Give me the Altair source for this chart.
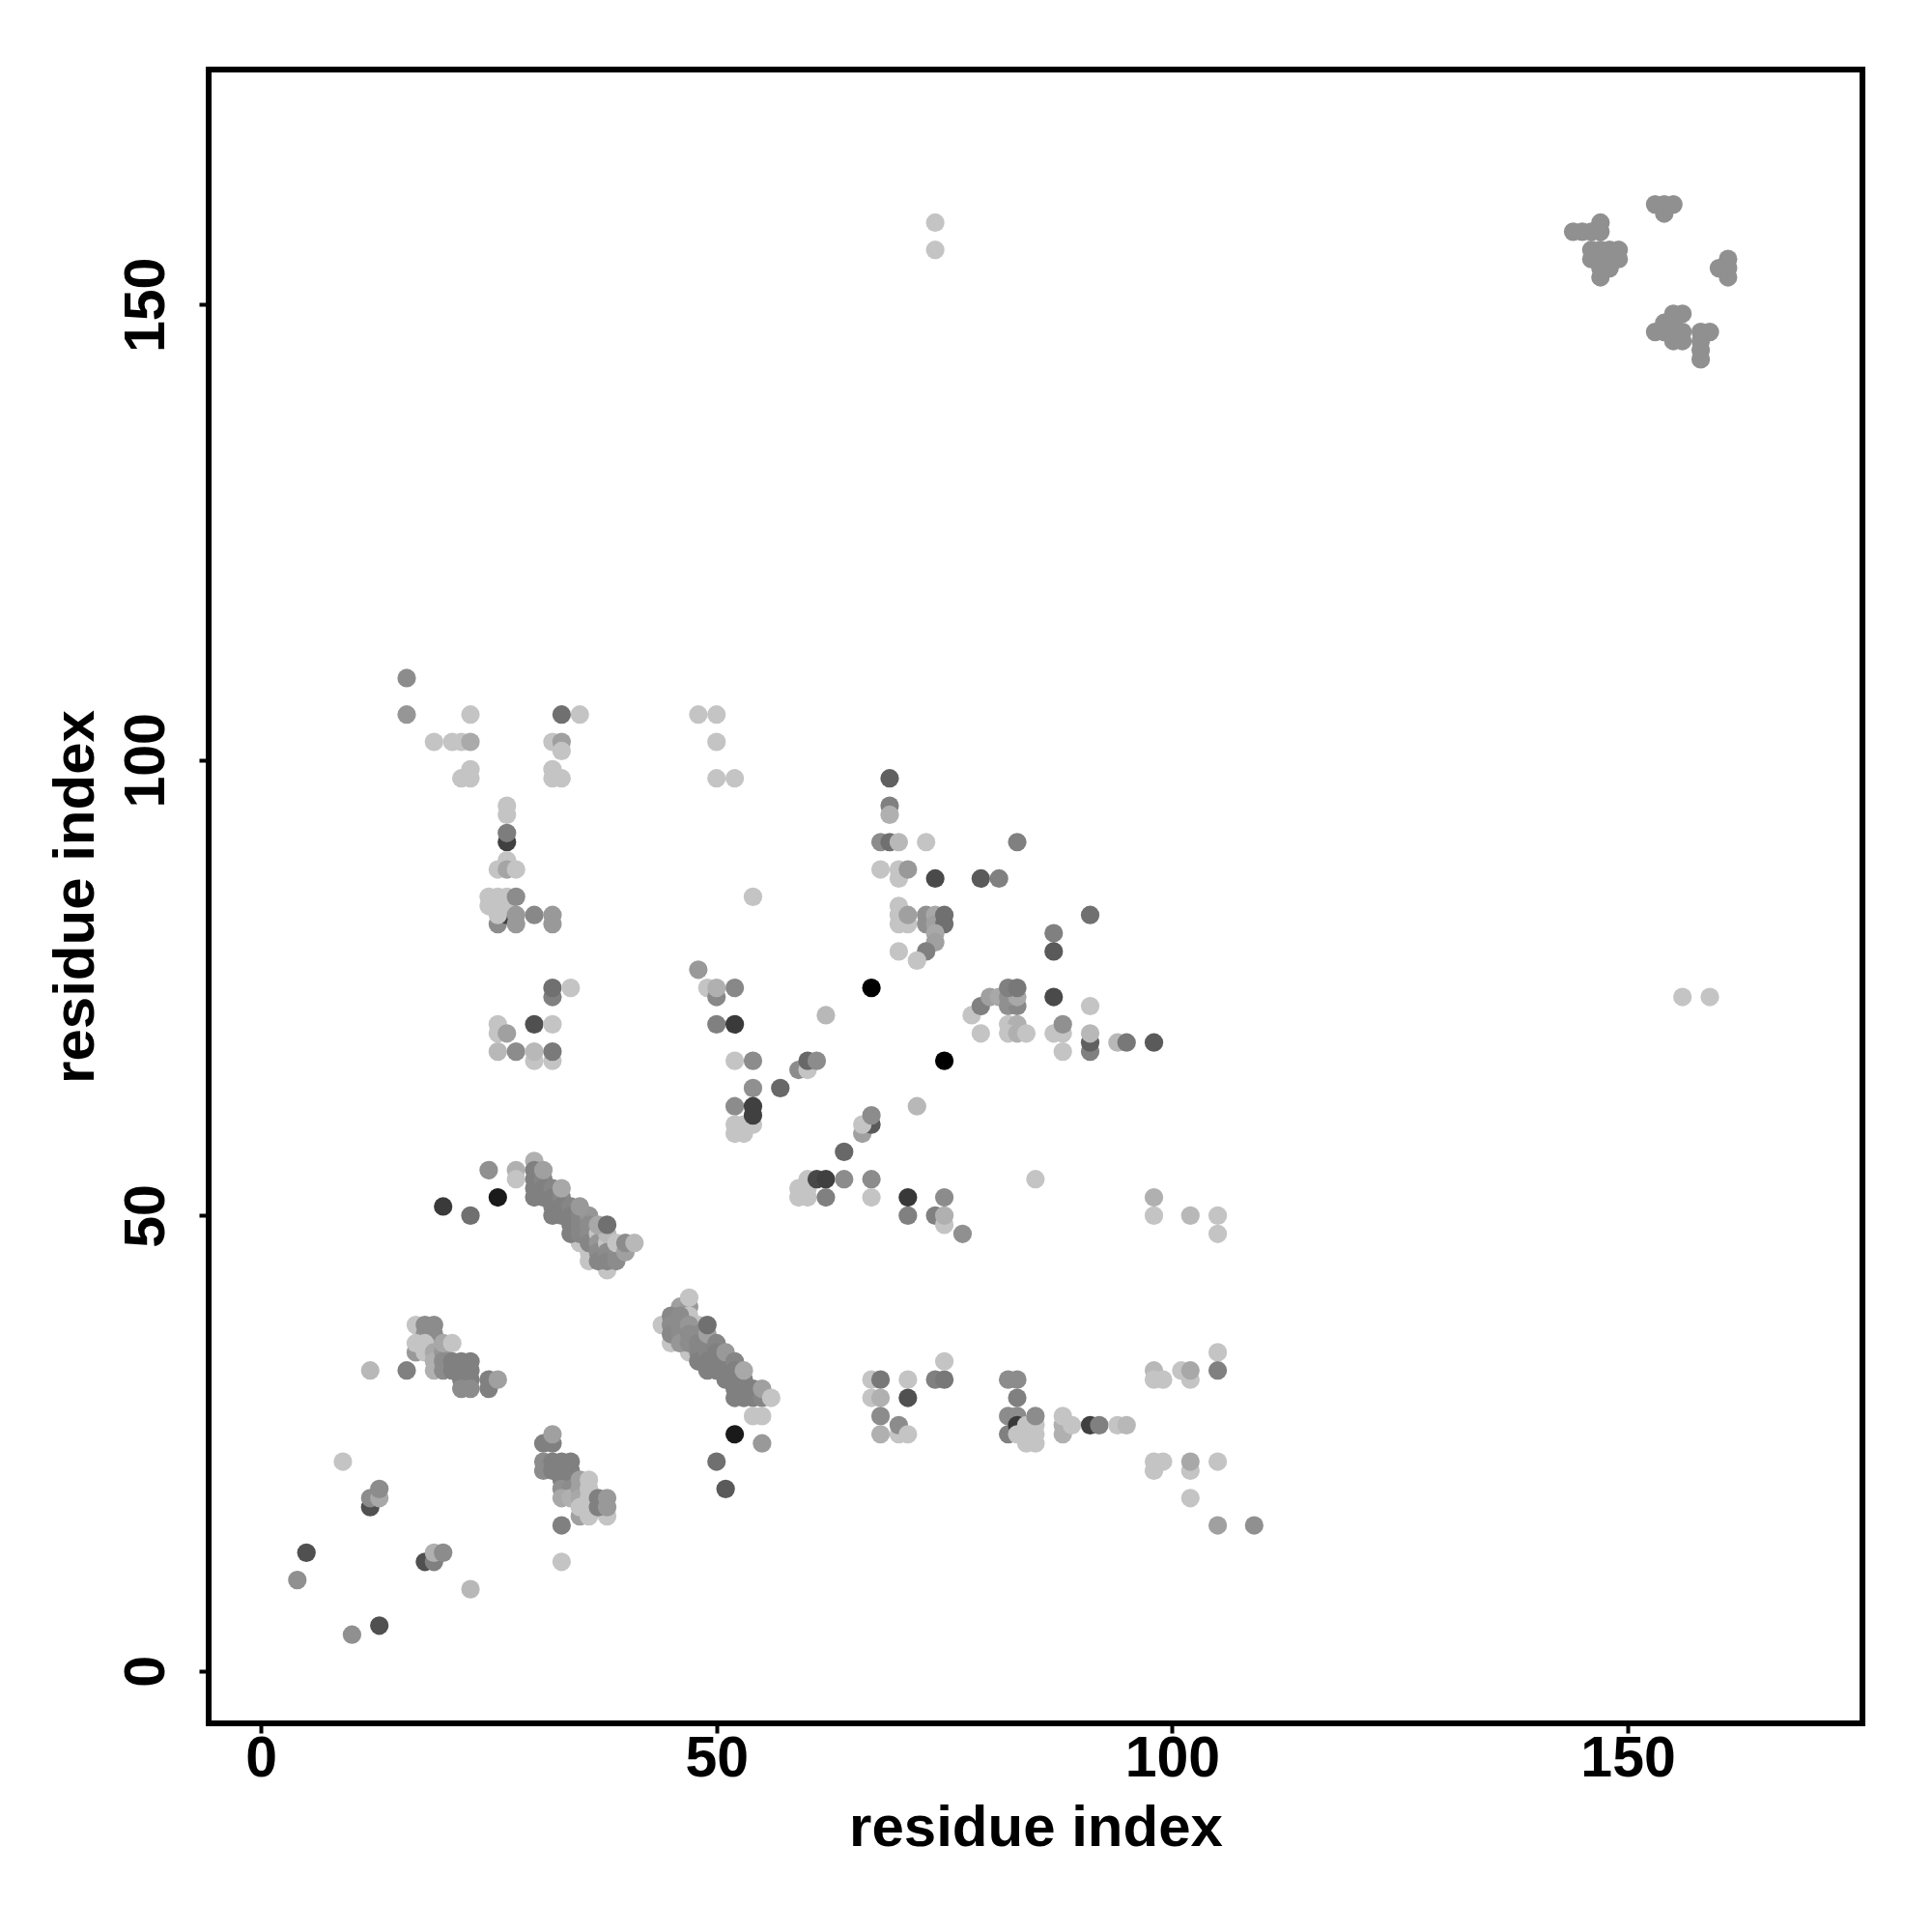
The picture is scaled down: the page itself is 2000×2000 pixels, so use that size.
import altair as alt
import pandas as pd

L = 196
top_right = [(x, y, 144) for x, y in [
    (144,158),(145,158),(146,158),(147,158),(147,159),(153,161),(154,161),(155,161),(154,160),
    (146,156),(147,156),(148,156),(146,155),(147,155),(148,155),(147,154),(148,154),(147,153),(149,156),(149,155),
    (161,155),(160,154),(161,154),(161,153),
    (153,147),(155,149),(156,149),(154,148),(155,148),(154,147),(155,147),(156,147),(155,146),(156,146),
    (158,147),(159,147),(158,146),(158,145),(158,144)]]
sparse_far = [(74,159,L),(74,156,L),(156,74,L),(159,74,L)]
upper_left = [
    (16,109,140),(16,105,150),(19,102,L),(21,102,L),(22,102,L),(23,102,170),(23,105,L),(22,98,L),(23,98,L),(23,99,L),
    (35,105,L),(33,105,112),(32,102,L),(33,102,160),(33,101,L),(32,99,L),(32,98,L),(33,98,L),
    (48,105,L),(50,105,L),(50,102,L),(50,98,L),(52,98,L)]
column_27 = [
    (27,95,L),(27,94,L),(27,91,64),(27,92,125),(27,89,L),(26,88,L),(27,88,165),(28,88,L),
    (26,82,140),(27,83,64),(25,85,L),(26,85,L),(27,85,L),(25,84,L),(26,84,L),(26,83,L),(27,84,L),(28,85,140),
    (28,83,153),(28,82,153),(30,83,136),(32,83,153),(32,82,153),
    (32,74,128),(32,75,112),(34,75,L),(26,71,L),(30,71,80),(32,71,L),(26,70,L),(27,70,160),
    (26,68,184),(28,68,140),(30,67,L),(30,68,184),(32,67,L),(32,68,122)]
column_70 = [
    (69,98,96),(69,95,128),(69,94,176),(68,91,140),(69,91,112),(70,91,184),(73,91,L),(83,91,128),
    (68,88,L),(70,87,L),(70,88,L),(71,88,153),(74,87,74),(79,87,90),(81,87,128),
    (70,84,L),(70,83,L),(70,82,L),(71,82,L),(71,83,160),(73,83,144),(73,82,144),(74,83,168),(74,82,160),(75,83,112),(75,82,112),
    (74,81,168),(74,80,160),(70,79,L),(73,79,128),(72,78,L),(87,81,128),(87,79,90),(91,83,112)]
middle_block = [
    (78,72,L),(79,73,128),(80,74,160),(81,74,168),(82,73,144),(83,73,136),(82,74,144),(83,74,168),(82,75,128),(83,75,120),
    (82,71,L),(83,71,176),(82,70,L),(83,70,176),(84,70,L),(79,70,L),(87,74,74),
    (87,70,L),(88,70,L),(88,71,144),(88,68,L),(91,73,L),(91,68,128),(91,69,96),(91,70,184),(94,69,184),(95,69,120),(98,69,90)]
center_v = [
    (48,77,153),(49,75,L),(52,75,136),(50,74,136),(50,75,176),(50,71,128),(52,71,58),(52,67,L),(54,67,140),(54,64,144),
    (57,64,104),(59,66,140),(60,66,L),(60,67,104),(61,67,140),(62,72,184),(67,75,0),(75,67,0),(72,62,184),
    (52,62,140),(52,60,L),(53,60,L),(54,60,L),(52,59,L),(53,59,L),(54,62,64),(54,61,64),(54,85,L),
    (64,57,104),(66,59,160),(67,60,90),(66,60,L),(67,61,140)]
row_52 = [
    (60,54,L),(59,53,L),(60,53,L),(59,52,L),(60,52,L),(61,54,72),(62,54,64),(64,54,140),(67,54,140),(62,52,128),(67,52,L),
    (71,52,56),(75,52,140),(71,50,128),(74,50,128),(75,49,L),(75,50,176),(77,48,144),(85,54,L),
    (98,52,176),(98,50,L),(102,50,184),(105,50,L),(105,48,L),(20,51,58),(23,50,112)]
diag_a = [
    (25,55,144),(26,52,26),(28,55,176),(28,54,L),(35,47,L),(36,46,L),(36,45,L),(38,44,L),(30,56,176),
    (30,55,128),(30,54,128),(30,53,128),(30,52,128),(31,54,134),(31,53,128),(31,52,128),(32,53,134),(32,52,128),(32,51,128),(32,50,128),
    (33,52,134),(33,51,128),(33,50,128),(34,51,134),(34,50,128),(34,49,128),(34,48,128),
    (35,50,134),(35,49,134),(35,48,134),(36,50,150),(36,49,140),(36,48,140),(36,47,134),(37,48,L),(37,47,150),(37,46,140),(37,45,134),
    (38,47,L),(38,48,184),(37,49,168),(38,49,112),(38,46,140),(38,45,134),(39,45,140),(39,46,140),(39,47,L),(40,46,160),(40,47,140),(41,47,184),
    (31,55,160),(33,53,168),(35,51,153)]
diag_b = [
    (44,38,L),(46,36,L),(45,36,L),(47,35,L),(46,40,160),(47,40,153),(47,41,L),(47,39,L),(48,38,L),
    (45,39,136),(45,38,140),(45,37,136),(46,39,140),(46,38,140),(46,37,140),(46,36,150),(47,38,150),(47,37,140),(47,36,140),
    (48,37,140),(48,36,134),(48,35,134),(48,34,128),(49,36,134),(49,35,134),(49,34,128),(49,33,128),(49,37,160),(49,38,112),
    (50,36,134),(50,35,128),(50,34,128),(50,33,128),(51,34,128),(51,33,128),(51,32,128),(51,35,153),
    (52,34,134),(52,33,128),(52,32,128),(52,31,128),(52,30,128),(53,32,128),(53,31,128),(53,30,128),(53,33,168),
    (54,31,128),(54,30,128),(55,30,134),(55,31,160),(56,30,L),(54,28,L),(55,28,L),
    (52,26,26),(55,25,153),(50,23,112),(51,20,90)]
lower_a = [
    (12,33,184),(16,33,128),(17,38,L),(18,37,144),(18,38,140),(19,38,140),(19,37,140),(17,35,153),(17,36,L),(18,36,L),(18,35,L),
    (19,35,168),(19,34,176),(19,33,176),(20,35,150),(20,34,140),(20,33,140),(20,36,168),(21,36,L),
    (21,34,128),(22,34,128),(23,34,128),(21,33,128),(22,33,128),(23,33,128),(22,32,128),(23,32,128),(22,31,140),(23,31,140),
    (25,32,128),(25,31,128),(26,32,160)]
lower_b = [
    (31,25,128),(32,25,128),(32,26,160),(31,23,140),(31,22,140),(32,23,128),(32,22,128),(33,23,128),(33,22,128),(34,23,128),(34,22,128),
    (33,21,128),(34,21,128),(33,20,144),(34,20,140),(33,19,168),(34,19,176),(35,21,160),(35,20,160),(35,19,168),
    (35,17,160),(35,18,L),(36,18,L),(36,17,L),(36,19,L),(36,20,L),(36,21,L),(38,17,L),(37,19,128),(37,18,128),(38,19,153),(38,18,153),
    (33,16,128),(33,12,L)]
lower_far = [
    (9,23,L),(4,10,144),(5,13,80),(10,4,144),(13,5,80),(12,18,80),(12,19,140),(13,19,168),(13,20,140),
    (18,12,80),(19,12,128),(19,13,176),(20,13,140),(23,9,184)]
right_a = [
    (67,32,L),(68,32,120),(71,32,L),(74,32,128),(75,32,120),(75,34,L),(67,30,L),(68,30,176),(71,30,80),(68,28,140),
    (68,26,176),(70,26,L),(70,27,140),(71,26,L),
    (82,32,140),(83,32,140),(83,30,128),(82,28,140),(83,28,140),(82,26,128),(83,27,58),(83,26,L),
    (84,27,L),(85,27,L),(84,26,L),(85,26,L),(84,25,L),(85,25,L),(85,28,140),
    (88,26,176),(88,27,176),(88,28,L),(89,27,L),(91,27,64),(92,27,128),(94,27,L),(95,27,184),
    (98,33,184),(98,32,L),(99,32,L),(101,33,L),(102,32,L),(102,33,168),(105,35,L),(105,33,128),
    (98,22,L),(98,23,L),(99,23,L),(102,22,L),(102,23,168),(102,19,L),(105,23,L),(105,16,160),(109,16,144)]

clusters = [top_right, sparse_far, upper_left, column_27, column_70, middle_block, center_v, row_52,
            diag_a, diag_b, lower_a, lower_b, lower_far, right_a]
rows = [{"x": x, "y": y, "c": f"#{g:02x}{g:02x}{g:02x}"} for cl in clusters for x, y, g in cl]
df = pd.DataFrame(rows)

FONT = "Liberation Sans"
tick_values = [0, 50, 100, 150]


def axis(**kw):
    return alt.Axis(values=tick_values, grid=False, domain=False, ticks=True, tickSize=10, tickWidth=4,
                    tickColor="black", labelFont=FONT, labelFontSize=59, labelFontWeight="bold",
                    labelColor="black", titleFont=FONT, titleFontSize=60, titleFontWeight="bold",
                    titleColor="black", title="residue index", labelFlush=False, labelOverlap=False, **kw)


chart = (
    alt.Chart(df)
    .mark_circle(size=370, opacity=1, clip=False)
    .encode(
        x=alt.X("x:Q", scale=alt.Scale(domain=[-5.73, 175.75], nice=False, zero=False),
                axis=axis(labelPadding=-3, titlePadding=13)),
        y=alt.Y("y:Q", scale=alt.Scale(domain=[-5.73, 175.8], nice=False, zero=False),
                axis=axis(labelAngle=270, labelAlign="center", labelBaseline="bottom", labelPadding=25, titlePadding=13)),
        color=alt.Color("c:N", scale=None, legend=None),
    )
    .properties(width=1712, height=1712, background="white",
                padding={"left": 208, "top": 64, "right": 60, "bottom": 200},
                autosize=alt.AutoSizeParams(type="none"))
    .configure_view(stroke="black", strokeWidth=6)
)

chart.save("out.html", embed_options={"renderer": "svg", "actions": False})
